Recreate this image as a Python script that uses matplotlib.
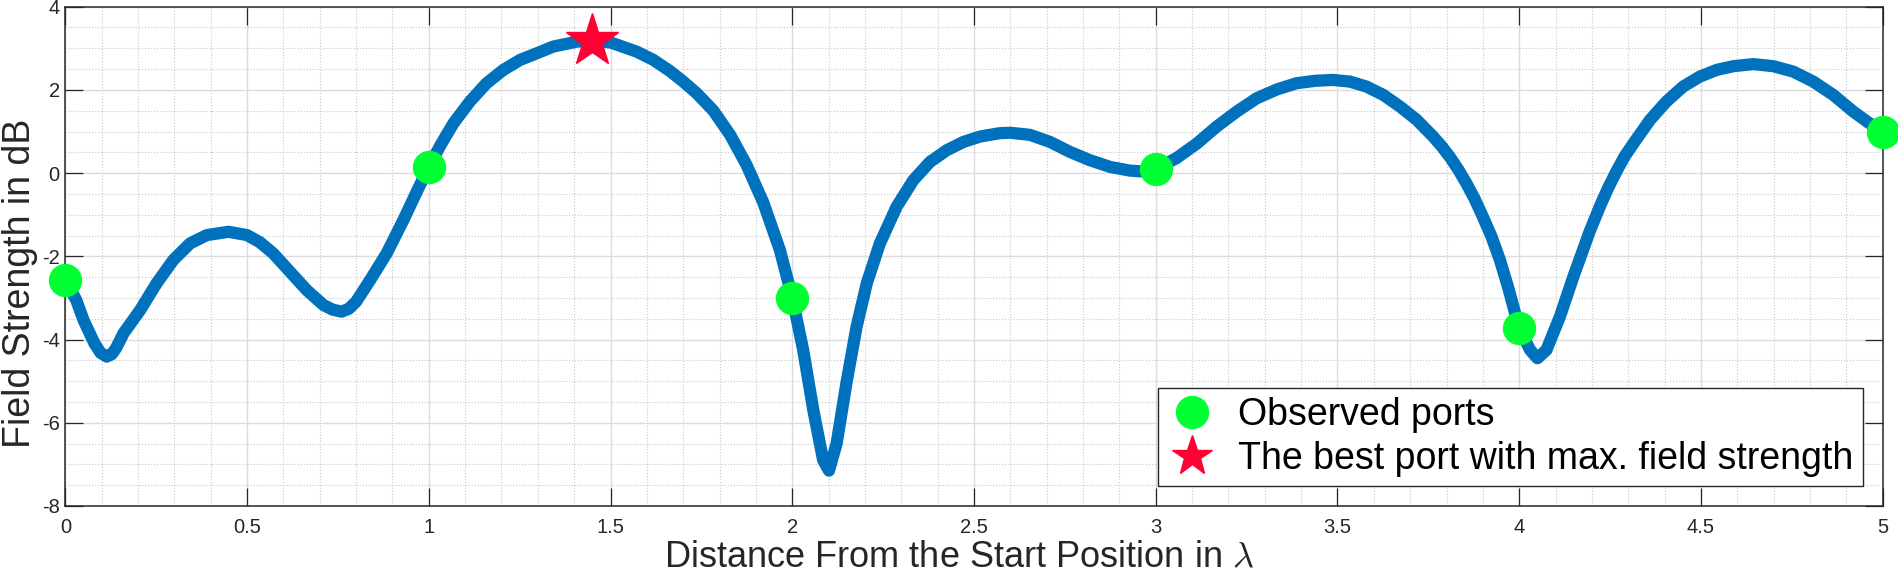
import numpy as np
import matplotlib
matplotlib.use("Agg")
import matplotlib.pyplot as plt
from matplotlib.ticker import MultipleLocator

plt.rcParams['font.family'] = ['Liberation Sans', 'DejaVu Sans']
plt.rcParams['mathtext.fontset'] = 'cm'

# field strength curve
dist = [0.000, 0.030, 0.050, 0.080, 0.097, 0.114, 0.128, 0.140, 0.160, 0.206,
        0.251, 0.297, 0.343, 0.389, 0.449, 0.500, 0.535, 0.572, 0.618, 0.664,
        0.710, 0.735, 0.760, 0.780, 0.800, 0.840, 0.884, 0.930, 0.965, 1.000,
        1.034, 1.068, 1.113, 1.159, 1.205, 1.251, 1.297, 1.342, 1.407, 1.451,
        1.500, 1.572, 1.618, 1.664, 1.700, 1.737, 1.783, 1.829, 1.874, 1.920,
        1.966, 2.000, 2.030, 2.058, 2.085, 2.101, 2.122, 2.149, 2.177, 2.205,
        2.241, 2.287, 2.333, 2.379, 2.425, 2.471, 2.517, 2.571, 2.600, 2.654,
        2.709, 2.764, 2.819, 2.874, 2.929, 2.965, 3.000, 3.057, 3.113, 3.168,
        3.223, 3.278, 3.333, 3.387, 3.440, 3.488, 3.534, 3.580, 3.626, 3.672,
        3.718, 3.763, 3.786, 3.809, 3.832, 3.855, 3.878, 3.900, 3.924, 3.947,
        3.969, 4.000, 4.030, 4.050, 4.075, 4.112, 4.149, 4.194, 4.222, 4.245,
        4.268, 4.290, 4.314, 4.360, 4.405, 4.451, 4.497, 4.543, 4.589, 4.644,
        4.699, 4.754, 4.809, 4.864, 4.919, 4.960, 5.000]
field = [-2.57, -3.05, -3.53, -4.09, -4.32, -4.41, -4.35, -4.20, -3.85, -3.29,
         -2.65, -2.09, -1.69, -1.49, -1.41, -1.49, -1.66, -1.93, -2.37, -2.81,
         -3.17, -3.28, -3.33, -3.26, -3.09, -2.55, -1.93, -1.13, -0.48, 0.15,
         0.70, 1.20, 1.72, 2.16, 2.48, 2.72, 2.88, 3.04, 3.16, 3.18,
         3.14, 2.92, 2.72, 2.45, 2.20, 1.92, 1.50, 0.92, 0.20, -0.70,
         -1.85, -2.99, -4.25, -5.70, -6.90, -7.15, -6.50, -5.05, -3.69, -2.65,
         -1.69, -0.81, -0.17, 0.27, 0.55, 0.75, 0.88, 0.96, 0.97, 0.92,
         0.75, 0.51, 0.31, 0.15, 0.06, 0.04, 0.10, 0.36, 0.71, 1.12,
         1.48, 1.80, 2.01, 2.16, 2.22, 2.24, 2.20, 2.08, 1.88, 1.60,
         1.28, 0.88, 0.65, 0.39, 0.09, -0.25, -0.63, -1.05, -1.53, -2.09,
         -2.73, -3.73, -4.25, -4.45, -4.25, -3.45, -2.49, -1.40, -0.80, -0.35,
         0.05, 0.40, 0.71, 1.28, 1.72, 2.08, 2.32, 2.48, 2.57, 2.62,
         2.57, 2.44, 2.20, 1.88, 1.48, 1.22, 1.00]

port_x = [0, 1, 2, 3, 4, 5]
port_y = [-2.57, 0.15, -2.99, 0.10, -3.73, 1.00]

best_x = [1.45]
best_y = [3.18]

xticks = [0, 0.5, 1, 1.5, 2, 2.5, 3, 3.5, 4, 4.5, 5]
xtick_labels = ['0', '0.5', '1', '1.5', '2', '2.5', '3', '3.5', '4', '4.5', '5']
yticks = [-8, -6, -4, -2, 0, 2, 4]
ytick_labels = ['-8', '-6', '-4', '-2', '0', '2', '4']

fig = plt.figure(figsize=(18.99, 5.77), dpi=100)
ax = fig.add_axes([0.0344, 0.1231, 0.9570, 0.8653])

ax.plot(dist, field, color='#0072BD', lw=8.8, solid_capstyle='round',
        solid_joinstyle='round', zorder=3)
ax.plot(port_x, port_y, 'o', color='#00ff33', ms=23, mec='#00ff33',
        label='Observed ports', zorder=4, clip_on=False)
ax.plot(best_x, best_y, '*', color='#ff0033', ms=40, mec='#ff0033',
        label='The best port with max. field strength', zorder=5)

ax.set_xlim(0, 5)
ax.set_ylim(-8, 4)
ax.set_xticks(xticks)
ax.set_xticklabels(xtick_labels)
ax.set_yticks(yticks)
ax.set_yticklabels(ytick_labels)
ax.xaxis.set_minor_locator(MultipleLocator(0.1))
ax.yaxis.set_minor_locator(MultipleLocator(0.5))

ax.grid(which='major', color='#dcdcdc', lw=1.0, ls='-', zorder=0)
ax.grid(which='minor', color='#c8c8c8', lw=0.8, ls=':', zorder=0)
ax.set_axisbelow(True)

ax.tick_params(which='major', direction='in', length=13, width=0.9,
               top=True, right=True, color='#262626', labelcolor='#262626',
               labelsize=14.5)
ax.tick_params(axis='x', which='major', pad=9)
ax.tick_params(axis='y', which='major', pad=4)
ax.tick_params(which='minor', length=0)
for s in ax.spines.values():
    s.set_color('#262626')
    s.set_linewidth(1.1)

ax.set_xlabel(r'Distance From the Start Position in $\lambda$', fontsize=26,
              color='#262626')
ax.xaxis.set_label_coords(0.492, -0.068)
ax.set_ylabel('Field Strength in dB', fontsize=27, color='#262626')
ax.yaxis.set_label_coords(-0.0152, 0.445)

leg = ax.legend(loc='lower right', bbox_to_anchor=(0.9892, 0.040),
                fontsize=27, frameon=True, fancybox=False, framealpha=1,
                edgecolor='#262626', borderpad=0.25, labelspacing=0.2,
                handlelength=1.3, handletextpad=0.6, borderaxespad=0)
leg.get_frame().set_linewidth(1.0)
leg.legend_handles[1].set_markersize(30)

fig.savefig('out.png', dpi=100)
